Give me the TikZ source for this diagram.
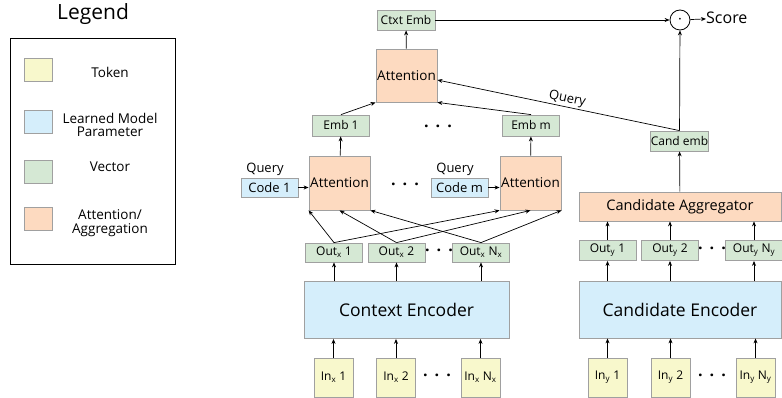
\documentclass[tikz,border=0pt]{standalone}
\usepackage{fontspec}
\setmainfont{Open Sans}
\usetikzlibrary{arrows.meta}

\definecolor{tokfill}{HTML}{F8F8CC}
\definecolor{parfill}{HTML}{D5EEFB}
\definecolor{vecfill}{HTML}{D5E8D4}
\definecolor{attfill}{HTML}{FDDAC0}
\definecolor{boxline}{HTML}{A0A0A0}

\newcommand{\fsz}[1]{\fontsize{#1}{#1}\selectfont}

\tikzset{
	box/.style={draw=boxline, line width=0.8pt, inner sep=0pt, font=\fsz{12}},
	token/.style={box, fill=tokfill, minimum width=39pt, minimum height=39pt},
	param/.style={box, fill=parfill},
	vect/.style={box, fill=vecfill, minimum width=57pt, minimum height=20pt},
	attn/.style={box, fill=attfill, font=\fsz{13.5}},
	arr/.style={-{Stealth[length=5pt,width=4pt]}, line width=0.7pt},
	dots/.style={font=\bfseries\fsz{16}},
	legtext/.style={font=\fsz{13.5}, align=center},
}

\begin{document}
\begin{tikzpicture}[x=1pt,y=-1pt]
	\useasboundingbox (0,0) rectangle (782,398);

	% legend
	\node[font=\fsz{21}] (legtitle) at (93,14) {Legend};
	\node[draw, line width=1pt, minimum width=165pt, minimum height=226pt] (legbox) at (92.5,152) {};
	\node[token, minimum width=28pt, minimum height=23pt] (legtok) at (38,69.5) {};
	\node[param, minimum width=28pt, minimum height=23pt] (legpar) at (38,121.5) {};
	\node[vect, minimum width=28pt, minimum height=23pt] (legvec) at (38,172) {};
	\node[attn, minimum width=28pt, minimum height=23pt] (legatt) at (38,219) {};
	\node[legtext] at (110,72) {Token};
	\node[legtext] at (110,125) {Learned Model\\Parameter};
	\node[legtext] at (110,167) {Vector};
	\node[legtext] at (110,223) {Attention/\\Aggregation};

	% context side
	\node[token] (inx1) at (333.5,377.5) {In\textsubscript{x} 1};
	\node[token] (inx2) at (396,377.5) {In\textsubscript{x} 2};
	\node[token] (inxN) at (480.5,377.5) {In\textsubscript{x} N\textsubscript{x}};
	\node[dots] at (437,375) {.\hspace{7pt}.\hspace{7pt}.};

	\node[param, minimum width=205pt, minimum height=57pt, font=\fsz{17.5}] (ctxenc) at (406.5,310) {Context Encoder};

	\node[vect, minimum height=19pt] (outx1) at (334,252.5) {Out\textsubscript{x} 1};
	\node[vect, minimum height=19pt] (outx2) at (396.5,252.5) {Out\textsubscript{x} 2};
	\node[vect, minimum height=19pt] (outxN) at (481,252.5) {Out\textsubscript{x} N\textsubscript{x}};
	\node[dots] at (439,250) {.\hspace{7pt}.\hspace{7pt}.};

	\node[attn, minimum width=61pt, minimum height=54pt] (attL) at (339.5,183) {Attention};
	\node[attn, minimum width=61pt, minimum height=54pt] (attR) at (530.5,183) {Attention};
	\node[param, minimum width=57pt, minimum height=19pt, font=\fsz{13}] (code1) at (269.5,187.5) {Code 1};
	\node[param, minimum width=57pt, minimum height=19pt, font=\fsz{13}] (codem) at (459.5,187.5) {Code m};
	\node[font=\fsz{13}] at (265,169) {Query};
	\node[font=\fsz{13}] at (455,169) {Query};
	\node[dots] at (405,184) {.\hspace{7pt}.\hspace{7pt}.};

	\node[vect, minimum height=21pt] (emb1) at (341,125.5) {Emb 1};
	\node[vect, minimum height=21pt] (embm) at (531,125.5) {Emb m};
	\node[dots] at (438,126) {.\hspace{7pt}.\hspace{7pt}.};

	\node[attn, minimum width=61pt, minimum height=53pt] (atttop) at (406.5,75.5) {Attention};
	\node[vect, minimum width=58pt] (ctxt) at (406,20) {Ctxt Emb};

	% candidate side
	\node[token] (iny1) at (607.5,377.5) {In\textsubscript{y} 1};
	\node[token] (iny2) at (670.5,377.5) {In\textsubscript{y} 2};
	\node[token] (inyN) at (755.5,377.5) {In\textsubscript{y} N\textsubscript{y}};
	\node[dots] at (712,375) {.\hspace{7pt}.\hspace{7pt}.};

	\node[param, minimum width=202pt, minimum height=57pt, font=\fsz{17.5}] (candenc) at (680,309.5) {Candidate Encoder};

	\node[vect] (outy1) at (607.5,250.5) {Out\textsubscript{y} 1};
	\node[vect] (outy2) at (670,250.5) {Out\textsubscript{y} 2};
	\node[vect] (outyN) at (754,250.5) {Out\textsubscript{y} N\textsubscript{y}};
	\node[dots] at (712,248) {.\hspace{7pt}.\hspace{7pt}.};

	\node[attn, minimum width=202pt, minimum height=29pt, font=\fsz{14.5}] (candagg) at (680,206.5) {Candidate Aggregator};
	\node[vect] (candemb) at (679.5,141) {Cand emb};

	\node[draw, circle, line width=0.8pt, minimum size=20pt, inner sep=0pt, font=\fsz{18}] (dotc) at (680,20) {$\cdot$};
	\node[font=\fsz{16}, anchor=west, inner sep=0pt] (score) at (706,18) {Score};

	% arrows
	\foreach \n in {1,2,N}
	{
		\draw[arr] (inx\n) -- (inx\n |- ctxenc.south);
		\draw[arr] (outx\n |- ctxenc.north) -- (outx\n.south);
		\draw[arr] (iny\n) -- (iny\n |- candenc.south);
		\draw[arr] (outy\n |- candenc.north) -- (outy\n.south);
		\draw[arr] (outy\n) -- (outy\n |- candagg.south);
	}
	\draw[arr] (outx1.north) -- (attL.south west);
	\draw[arr] (outx2.north) -- (attL.south);
	\draw[arr] (outxN.north) -- (attL.south east);
	\draw[arr] (outx1.north) -- (attR.south west);
	\draw[arr] (outx2.north) -- (attR.south);
	\draw[arr] (outxN.north) -- (attR.south east);
	\draw[arr] (code1.east) -- (code1.east -| attL.west);
	\draw[arr] (codem.east) -- (codem.east -| attR.west);
	\draw[arr] (attL) -- (emb1);
	\draw[arr] (attR) -- (embm);
	\draw[arr] (emb1.north) -- (atttop.south west);
	\draw[arr] (embm.north) -- (atttop.south east);
	\draw[arr] (atttop) -- (ctxt);
	\draw[arr] (ctxt) -- (dotc);
	\draw[arr] (dotc) -- (score);
	\draw[arr] (candagg) -- (candemb);
	\draw[arr] (candemb) -- (dotc);
	\draw[arr] (candemb.north) -- node[pos=0.47, sloped, above, font=\fsz{13}, inner sep=1pt] {Query} ([yshift=-4.5pt]atttop.east);
\end{tikzpicture}
\end{document}
